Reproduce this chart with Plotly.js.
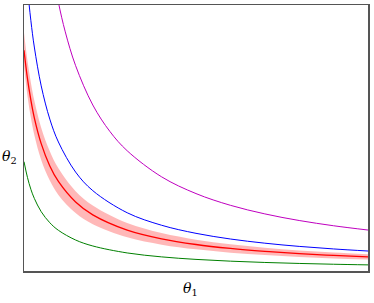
<!DOCTYPE html>
<html><head><meta charset="utf-8">
<script src="https://cdn.plot.ly/plotly-3.0.1.min.js"></script>
<style>html,body{margin:0;padding:0;background:#fff}#c{width:374px;height:303px}</style>
</head><body><div id="c"></div>
<script>
const xLow = [0, 0.01, 0.02, 0.03, 0.05, 0.075, 0.1, 0.15, 0.2, 0.3, 0.4, 0.5, 0.6, 0.7, 0.8, 0.9, 1.0];
const greenY = [0.411, 0.352, 0.307, 0.273, 0.223, 0.1815, 0.153, 0.1165, 0.0941, 0.0679, 0.0531, 0.0436, 0.0370, 0.0321, 0.0284, 0.0254, 0.0230];
const redY   = [0.830, 0.724, 0.642, 0.576, 0.479, 0.395, 0.3365, 0.2594, 0.2110, 0.1537, 0.1209, 0.0996, 0.0847, 0.0737, 0.0652, 0.0585, 0.0530];
const bandUpperY = [0.896, 0.791, 0.708, 0.641, 0.539, 0.450, 0.386, 0.300, 0.246, 0.180, 0.1425, 0.1178, 0.1003, 0.0874, 0.0774, 0.0695, 0.0630];
const bandLowerY = [0.771, 0.659, 0.576, 0.511, 0.417, 0.340, 0.286, 0.2177, 0.1757, 0.1267, 0.0991, 0.0814, 0.0690, 0.0599, 0.0530, 0.0474, 0.0430];
const blueY  = [1.231, 1.067, 0.941, 0.842, 0.696, 0.571, 0.485, 0.372, 0.302, 0.219, 0.172, 0.1416, 0.1203, 0.1046, 0.0925, 0.0829, 0.0751];
const xMag = [0.08, 0.1, 0.12, 0.15, 0.2, 0.25, 0.3, 0.4, 0.5, 0.6, 0.7, 0.8, 0.9, 1.0];
const magentaY = [1.152, 1.010, 0.899, 0.772, 0.624, 0.524, 0.452, 0.354, 0.291, 0.247, 0.2147, 0.1898, 0.1701, 0.1540];
const xLabel = '<i>θ</i><sub>1</sub>';
const yLabel = '<i>θ</i><sub>2</sub>';

const traces = [
  {x: xLow, y: bandLowerY, mode: 'lines', line: {width: 0, shape: 'spline'}, hoverinfo: 'skip', showlegend: false},
  {x: xLow, y: bandUpperY, mode: 'lines', fill: 'tonexty', fillcolor: 'rgba(255,0,0,0.28)', line: {width: 0, shape: 'spline'}, hoverinfo: 'skip', showlegend: false},
  {x: xLow, y: greenY, mode: 'lines', line: {color: '#008000', width: 1, shape: 'spline'}},
  {x: xLow, y: redY, mode: 'lines', line: {color: '#ff0000', width: 1.3, shape: 'spline'}},
  {x: xLow, y: blueY, mode: 'lines', line: {color: '#0000ff', width: 1, shape: 'spline'}},
  {x: xMag, y: magentaY, mode: 'lines', line: {color: '#bf00bf', width: 1, shape: 'spline'}}
];
const axisCommon = {range: [0, 1], showticklabels: false, ticks: '', showgrid: false, zeroline: false,
  showline: true, mirror: true, linecolor: '#555', linewidth: 1.5, fixedrange: true};
const layout = {
  width: 374, height: 303, showlegend: false,
  margin: {l: 24, r: 6, t: 5, b: 32},
  paper_bgcolor: '#fff', plot_bgcolor: '#fff',
  xaxis: Object.assign({}, axisCommon),
  yaxis: Object.assign({}, axisCommon),
  annotations: [
    {text: xLabel, xref: 'paper', yref: 'paper', x: 0.483, y: -0.068, xanchor: 'center', yanchor: 'middle', showarrow: false,
     font: {family: 'DejaVu Serif, serif', size: 14, color: '#000'}},
    {text: yLabel, xref: 'paper', yref: 'paper', x: -0.041, y: 0.43, xanchor: 'center', yanchor: 'middle', showarrow: false,
     font: {family: 'DejaVu Serif, serif', size: 14, color: '#000'}}
  ]
};
Plotly.newPlot('c', traces, layout, {staticPlot: true, displayModeBar: false});
</script></body></html>
